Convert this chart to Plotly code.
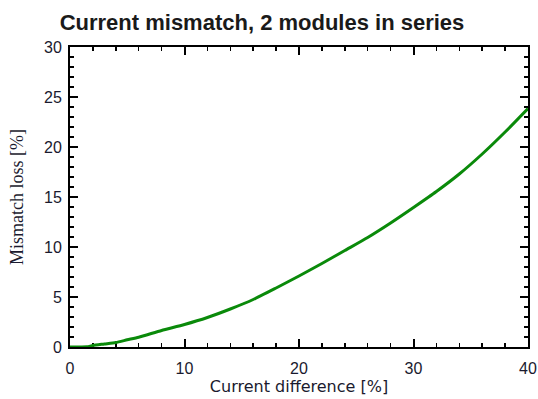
import plotly.graph_objects as go

current_diff = [0, 1, 1.5, 2, 3, 4, 5, 6, 8, 10, 12, 14, 16, 18, 20, 22, 24, 26, 28, 30, 32, 34, 36, 38, 40]
mismatch_loss = [0, 0, 0.02, 0.15, 0.3, 0.45, 0.72, 0.98, 1.65, 2.25, 2.95, 3.8, 4.75, 5.9, 7.1, 8.35, 9.65, 10.95, 12.4, 13.95, 15.55, 17.3, 19.3, 21.5, 23.85]

x_ticks = [0, 10, 20, 30, 40]
y_ticks = [0, 5, 10, 15, 20, 25, 30]

W, H = 538, 399

fig = go.Figure()
fig.add_trace(go.Scatter(
    x=current_diff, y=mismatch_loss, mode="lines",
    line=dict(color="#0a8a0a", width=3, shape="spline", smoothing=0.6), showlegend=False,
))

axis_common = dict(
    showgrid=False, zeroline=False, showline=True, linecolor="black", linewidth=2,
    mirror="ticks", ticks="inside", ticklen=8, tickwidth=2, tickcolor="black",
    tickfont=dict(family="Liberation Sans, Arial, sans-serif", size=16, color="#1a1a2e"),
    layer="below traces", automargin=False,
)

fig.update_layout(
    width=W, height=H,
    margin=dict(l=70, r=10, t=47, b=52),
    paper_bgcolor="white", plot_bgcolor="white",
    title=dict(
        text="<b>Current mismatch, 2 modules in series</b>",
        x=262 / W, xref="container", xanchor="center",
        y=1 - 22 / H, yref="container", yanchor="middle",
        font=dict(family="Liberation Sans, Arial, sans-serif", size=22, color="#1a1a1a"),
    ),
    xaxis=dict(
        range=[0, 40], tickmode="array", tickvals=x_ticks, ticktext=[str(v) for v in x_ticks],
        minor=dict(dtick=2, ticks="inside", ticklen=4, tickwidth=1.5, tickcolor="black"),
        ticklabelstandoff=6,
        title=dict(text="Current difference [%]", standoff=4,
                   font=dict(family="DejaVu Sans, Verdana, sans-serif", size=16, color="#1a1a2e")),
        **axis_common,
    ),
    yaxis=dict(
        range=[0, 30], tickmode="array", tickvals=y_ticks, ticktext=[str(v) for v in y_ticks],
        minor=dict(dtick=1, ticks="inside", ticklen=4, tickwidth=1.5, tickcolor="black"),
        ticklabelstandoff=3,
        title=dict(text="Mismatch loss [%]", standoff=16,
                   font=dict(family="Liberation Serif, Times New Roman, serif", size=18, color="#1a1a2e")),
        **axis_common,
    ),
)

fig.write_html(
    "out.html",
    config={"displayModeBar": False, "staticPlot": True},
    post_script="document.body.style.margin='0';document.body.style.overflow='hidden';",
)
